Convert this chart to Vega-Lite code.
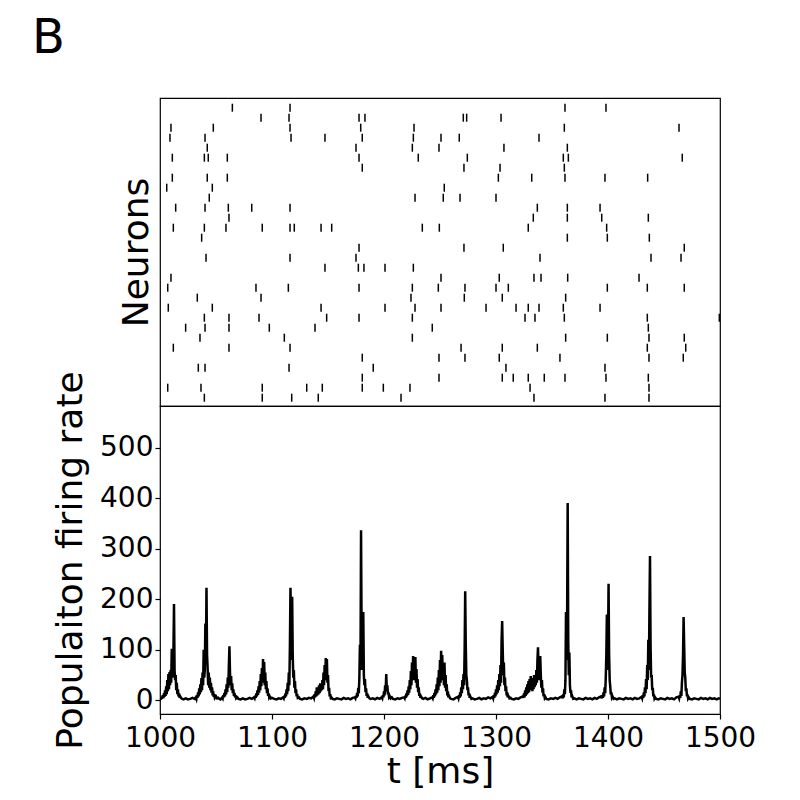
{
"$schema": "https://vega.github.io/schema/vega-lite/v6.json",
"padding": {"left": 31, "top": 15, "right": 5, "bottom": 5},
"bounds": "flush",
"title": {"text": "B", "anchor": "start", "fontSize": 48, "font": "DejaVu Sans", "fontWeight": "normal", "color": "black", "dx": -20, "offset": 34},
"config": {"font": "DejaVu Sans", "view": {"stroke": "black", "strokeWidth": 1.2},
 "axis": {"grid": false, "domain": false, "labelFont": "DejaVu Sans", "titleFont": "DejaVu Sans", "labelFontSize": 28, "titleFontSize": 36, "titleFontWeight": "normal", "labelColor": "black", "titleColor": "black", "tickColor": "black", "tickSize": 5, "tickWidth": 1.2, "labelFlush": false, "labelOverlap": false}},
"spacing": 0,
"datasets": {
"spikes": [
{"n":0,"t":1064.6},{"n":0,"t":1116.1},{"n":0,"t":1361.6},{"n":0,"t":1398.2},
{"n":1,"t":1090.2},{"n":1,"t":1115.2},{"n":1,"t":1177.7},{"n":1,"t":1183.0},{"n":1,"t":1270.8},{"n":1,"t":1273.8},{"n":1,"t":1304.5},
{"n":2,"t":1009.8},{"n":2,"t":1047.6},{"n":2,"t":1116.1},{"n":2,"t":1179.2},{"n":2,"t":1226.8},{"n":2,"t":1361.0},{"n":2,"t":1463.4},
{"n":3,"t":1008.9},{"n":3,"t":1040.2},{"n":3,"t":1117.0},{"n":3,"t":1147.3},{"n":3,"t":1180.6},{"n":3,"t":1226.2},{"n":3,"t":1250.9},{"n":3,"t":1267.2},{"n":3,"t":1338.4},
{"n":4,"t":1042.2},{"n":4,"t":1175.0},{"n":4,"t":1225.3},{"n":4,"t":1249.1},{"n":4,"t":1307.1},{"n":4,"t":1363.7},
{"n":5,"t":1011.0},{"n":5,"t":1039.6},{"n":5,"t":1043.1},{"n":5,"t":1060.1},{"n":5,"t":1177.7},{"n":5,"t":1230.6},{"n":5,"t":1274.4},{"n":5,"t":1360.1},{"n":5,"t":1364.6},{"n":5,"t":1466.3},
{"n":6,"t":1180.6},{"n":6,"t":1271.4},{"n":6,"t":1303.6},{"n":6,"t":1361.0},
{"n":7,"t":1011.0},{"n":7,"t":1042.2},{"n":7,"t":1060.1},{"n":7,"t":1302.1},{"n":7,"t":1331.9},{"n":7,"t":1361.6},{"n":7,"t":1397.3},{"n":7,"t":1435.4},
{"n":8,"t":1006.0},{"n":8,"t":1046.7},{"n":8,"t":1253.8},
{"n":9,"t":1044.0},{"n":9,"t":1227.7},{"n":9,"t":1252.9},{"n":9,"t":1267.9},{"n":9,"t":1300.0},
{"n":10,"t":1014.0},{"n":10,"t":1040.2},{"n":10,"t":1061.0},{"n":10,"t":1081.9},{"n":10,"t":1116.1},{"n":10,"t":1336.9},{"n":10,"t":1363.7},{"n":10,"t":1392.9},
{"n":11,"t":1061.6},{"n":11,"t":1333.3},{"n":11,"t":1363.7},{"n":11,"t":1394.4},{"n":11,"t":1436.0},
{"n":12,"t":1011.9},{"n":12,"t":1039.6},{"n":12,"t":1058.9},{"n":12,"t":1091.3},{"n":12,"t":1116.1},{"n":12,"t":1119.9},{"n":12,"t":1143.8},{"n":12,"t":1153.3},{"n":12,"t":1234.2},{"n":12,"t":1249.4},{"n":12,"t":1328.8},{"n":12,"t":1398.8},
{"n":13,"t":1037.2},{"n":13,"t":1363.7},{"n":13,"t":1399.4},{"n":13,"t":1436.9},
{"n":14,"t":1177.7},{"n":14,"t":1271.4},{"n":14,"t":1306.5},{"n":14,"t":1468.1},
{"n":15,"t":1041.1},{"n":15,"t":1116.1},{"n":15,"t":1175.0},{"n":15,"t":1339.3},{"n":15,"t":1438.4},{"n":15,"t":1465.2},
{"n":16,"t":1147.3},{"n":16,"t":1177.1},{"n":16,"t":1182.1},{"n":16,"t":1200.9},{"n":16,"t":1226.2},
{"n":17,"t":1009.8},{"n":17,"t":1250.9},{"n":17,"t":1302.9},{"n":17,"t":1333.9},{"n":17,"t":1340.2},{"n":17,"t":1364.0},{"n":17,"t":1427.7},
{"n":18,"t":1006.9},{"n":18,"t":1085.7},{"n":18,"t":1114.6},{"n":18,"t":1177.7},{"n":18,"t":1225.3},{"n":18,"t":1248.5},{"n":18,"t":1272.3},{"n":18,"t":1300.0},{"n":18,"t":1311.0},{"n":18,"t":1399.4},{"n":18,"t":1435.1},{"n":18,"t":1468.1},
{"n":19,"t":1033.3},{"n":19,"t":1090.2},{"n":19,"t":1224.1},{"n":19,"t":1271.7},{"n":19,"t":1305.6},{"n":19,"t":1362.2},
{"n":20,"t":1007.4},{"n":20,"t":1046.7},{"n":20,"t":1143.8},{"n":20,"t":1200.9},{"n":20,"t":1227.7},{"n":20,"t":1250.9},{"n":20,"t":1291.1},{"n":20,"t":1317.9},{"n":20,"t":1328.8},{"n":20,"t":1338.4},{"n":20,"t":1360.1},{"n":20,"t":1392.9},
{"n":21,"t":1039.6},{"n":21,"t":1061.6},{"n":21,"t":1088.4},{"n":21,"t":1148.8},{"n":21,"t":1177.7},{"n":21,"t":1225.3},{"n":21,"t":1325.9},{"n":21,"t":1334.8},{"n":21,"t":1361.0},{"n":21,"t":1435.1},{"n":21,"t":1499.4},
{"n":22,"t":1022.9},{"n":22,"t":1040.2},{"n":22,"t":1061.6},{"n":22,"t":1097.6},{"n":22,"t":1138.4},{"n":22,"t":1243.1},{"n":22,"t":1436.0},
{"n":23,"t":1035.7},{"n":23,"t":1111.0},{"n":23,"t":1225.3},{"n":23,"t":1362.2},{"n":23,"t":1399.4},{"n":23,"t":1436.6},{"n":23,"t":1468.1},
{"n":24,"t":1011.9},{"n":24,"t":1061.6},{"n":24,"t":1116.1},{"n":24,"t":1268.8},{"n":24,"t":1305.6},{"n":24,"t":1336.9},{"n":24,"t":1435.1},{"n":24,"t":1469.4},
{"n":25,"t":1180.6},{"n":25,"t":1249.1},{"n":25,"t":1272.3},{"n":25,"t":1302.9},{"n":25,"t":1357.1},{"n":25,"t":1436.6},{"n":25,"t":1467.2},
{"n":26,"t":1034.2},{"n":26,"t":1040.2},{"n":26,"t":1115.2},{"n":26,"t":1190.4},{"n":26,"t":1308.9},{"n":26,"t":1397.3},
{"n":27,"t":1180.6},{"n":27,"t":1249.1},{"n":27,"t":1305.6},{"n":27,"t":1315.4},{"n":27,"t":1328.8},{"n":27,"t":1343.1},{"n":27,"t":1361.6},{"n":27,"t":1398.2},{"n":27,"t":1436.0},
{"n":28,"t":1006.9},{"n":28,"t":1036.6},{"n":28,"t":1091.3},{"n":28,"t":1131.0},{"n":28,"t":1144.9},{"n":28,"t":1180.6},{"n":28,"t":1199.4},{"n":28,"t":1223.2},{"n":28,"t":1330.4},{"n":28,"t":1436.6},
{"n":29,"t":1039.6},{"n":29,"t":1091.3},{"n":29,"t":1117.6},{"n":29,"t":1141.3},{"n":29,"t":1215.2},{"n":29,"t":1333.9},{"n":29,"t":1397.3},{"n":29,"t":1436.6}
],
"rate": [
{"t":1000,"r":2},{"t":1001,"r":3},{"t":1002,"r":6},{"t":1002.5,"r":10},{"t":1003,"r":4},{"t":1003.5,"r":14},{"t":1004,"r":7},{"t":1004.5,"r":20},{"t":1005,"r":9},{"t":1005.5,"r":28},{"t":1006,"r":12},{"t":1006.5,"r":40},{"t":1007,"r":18},{"t":1007.5,"r":52},{"t":1008,"r":22},{"t":1008.5,"r":56},{"t":1009,"r":30},{"t":1009.5,"r":60},{"t":1010,"r":35},{"t":1010.5,"r":102},{"t":1011,"r":45},{"t":1011.5,"r":60},{"t":1012,"r":95},{"t":1012.5,"r":191},{"t":1013,"r":60},{"t":1013.5,"r":40},{"t":1014,"r":50},{"t":1014.5,"r":20},{"t":1015,"r":35},{"t":1015.5,"r":12},{"t":1016,"r":22},{"t":1016.5,"r":8},{"t":1017,"r":14},{"t":1017.5,"r":5},{"t":1018,"r":8},{"t":1019,"r":4},{"t":1020,"r":3},{"t":1021,"r":2},{"t":1023,"r":4},{"t":1025,"r":2},{"t":1027,"r":3},{"t":1029,"r":5},{"t":1031,"r":3},
{"t":1032,"r":6},{"t":1032.5,"r":3},{"t":1033,"r":10},{"t":1033.5,"r":5},{"t":1034,"r":16},{"t":1034.5,"r":8},{"t":1035,"r":24},{"t":1035.5,"r":12},{"t":1036,"r":32},{"t":1036.5,"r":16},{"t":1037,"r":44},{"t":1037.5,"r":20},{"t":1038,"r":55},{"t":1038.5,"r":30},{"t":1039,"r":100},{"t":1039.5,"r":45},{"t":1040,"r":60},{"t":1040.5,"r":152},{"t":1041,"r":70},{"t":1041.5,"r":223},{"t":1042,"r":90},{"t":1042.5,"r":65},{"t":1043,"r":30},{"t":1043.5,"r":55},{"t":1044,"r":25},{"t":1044.5,"r":45},{"t":1045,"r":20},{"t":1045.5,"r":35},{"t":1046,"r":15},{"t":1046.5,"r":26},{"t":1047,"r":10},{"t":1047.5,"r":18},{"t":1048,"r":7},{"t":1048.5,"r":12},{"t":1049,"r":5},{"t":1050,"r":8},{"t":1051,"r":4},{"t":1052,"r":5},{"t":1053,"r":3},{"t":1054,"r":2},
{"t":1055.5,"r":6},{"t":1056,"r":4},{"t":1056.5,"r":10},{"t":1057,"r":6},{"t":1057.5,"r":15},{"t":1058,"r":8},{"t":1058.5,"r":22},{"t":1059,"r":12},{"t":1059.5,"r":32},{"t":1060,"r":16},{"t":1060.5,"r":45},{"t":1061,"r":25},{"t":1061.5,"r":70},{"t":1062,"r":107},{"t":1062.5,"r":55},{"t":1063,"r":30},{"t":1063.5,"r":48},{"t":1064,"r":20},{"t":1064.5,"r":34},{"t":1065,"r":14},{"t":1065.5,"r":22},{"t":1066,"r":9},{"t":1066.5,"r":15},{"t":1067,"r":6},{"t":1067.5,"r":10},{"t":1068,"r":4},{"t":1069,"r":6},{"t":1070,"r":3},{"t":1072,"r":2},{"t":1074,"r":4},{"t":1076,"r":2},{"t":1078,"r":3},{"t":1080,"r":5},{"t":1082,"r":3},{"t":1084,"r":6},
{"t":1084.5,"r":4},{"t":1085,"r":9},{"t":1085.5,"r":5},{"t":1086,"r":14},{"t":1086.5,"r":8},{"t":1087,"r":20},{"t":1087.5,"r":11},{"t":1088,"r":28},{"t":1088.5,"r":15},{"t":1089,"r":38},{"t":1089.5,"r":20},{"t":1090,"r":52},{"t":1090.5,"r":28},{"t":1091,"r":64},{"t":1091.5,"r":35},{"t":1092,"r":82},{"t":1092.5,"r":40},{"t":1093,"r":76},{"t":1093.5,"r":30},{"t":1094,"r":55},{"t":1094.5,"r":22},{"t":1095,"r":38},{"t":1095.5,"r":14},{"t":1096,"r":24},{"t":1096.5,"r":9},{"t":1097,"r":14},{"t":1097.5,"r":6},{"t":1098,"r":8},{"t":1099,"r":4},{"t":1100,"r":5},{"t":1102,"r":3},{"t":1104,"r":2},{"t":1106,"r":4},{"t":1108,"r":3},{"t":1110,"r":6},
{"t":1110.5,"r":4},{"t":1111,"r":9},{"t":1111.5,"r":5},{"t":1112,"r":14},{"t":1112.5,"r":8},{"t":1113,"r":22},{"t":1113.5,"r":12},{"t":1114,"r":35},{"t":1114.5,"r":18},{"t":1115,"r":55},{"t":1115.5,"r":30},{"t":1116,"r":110},{"t":1116.5,"r":223},{"t":1117,"r":120},{"t":1117.5,"r":80},{"t":1118,"r":205},{"t":1118.5,"r":90},{"t":1119,"r":45},{"t":1119.5,"r":60},{"t":1120,"r":25},{"t":1120.5,"r":38},{"t":1121,"r":14},{"t":1121.5,"r":22},{"t":1122,"r":8},{"t":1122.5,"r":12},{"t":1123,"r":5},{"t":1124,"r":6},{"t":1125,"r":3},{"t":1127,"r":2},{"t":1129,"r":4},{"t":1131,"r":3},{"t":1133,"r":5},{"t":1135,"r":4},{"t":1137,"r":8},
{"t":1137.5,"r":5},{"t":1138,"r":12},{"t":1138.5,"r":6},{"t":1139,"r":18},{"t":1139.5,"r":8},{"t":1140,"r":26},{"t":1140.5,"r":10},{"t":1141,"r":22},{"t":1141.5,"r":12},{"t":1142,"r":30},{"t":1142.5,"r":14},{"t":1143,"r":34},{"t":1143.5,"r":18},{"t":1144,"r":28},{"t":1144.5,"r":20},{"t":1145,"r":40},{"t":1145.5,"r":22},{"t":1146,"r":55},{"t":1146.5,"r":30},{"t":1147,"r":70},{"t":1147.5,"r":40},{"t":1148,"r":84},{"t":1148.5,"r":45},{"t":1149,"r":82},{"t":1149.5,"r":35},{"t":1150,"r":50},{"t":1150.5,"r":18},{"t":1151,"r":25},{"t":1151.5,"r":8},{"t":1152,"r":12},{"t":1152.5,"r":5},{"t":1153,"r":6},{"t":1154,"r":3},{"t":1156,"r":2},{"t":1158,"r":4},{"t":1160,"r":3},{"t":1162,"r":2},{"t":1164,"r":5},{"t":1166,"r":3},{"t":1168,"r":4},{"t":1170,"r":2},{"t":1172,"r":5},{"t":1174,"r":6},
{"t":1174.5,"r":4},{"t":1175,"r":9},{"t":1175.5,"r":5},{"t":1176,"r":15},{"t":1176.5,"r":8},{"t":1177,"r":25},{"t":1177.5,"r":14},{"t":1178,"r":45},{"t":1178.5,"r":110},{"t":1179,"r":60},{"t":1179.5,"r":337},{"t":1180,"r":130},{"t":1180.5,"r":60},{"t":1181,"r":100},{"t":1181.5,"r":175},{"t":1182,"r":50},{"t":1182.5,"r":30},{"t":1183,"r":42},{"t":1183.5,"r":16},{"t":1184,"r":24},{"t":1184.5,"r":9},{"t":1185,"r":14},{"t":1185.5,"r":5},{"t":1186,"r":8},{"t":1187,"r":4},{"t":1188,"r":3},{"t":1190,"r":4},{"t":1192,"r":2},{"t":1194,"r":5},{"t":1196,"r":3},{"t":1198,"r":6},
{"t":1198.5,"r":4},{"t":1199,"r":10},{"t":1199.5,"r":6},{"t":1200,"r":18},{"t":1200.5,"r":10},{"t":1201,"r":30},{"t":1201.5,"r":18},{"t":1202,"r":52},{"t":1202.5,"r":22},{"t":1203,"r":30},{"t":1203.5,"r":12},{"t":1204,"r":16},{"t":1204.5,"r":7},{"t":1205,"r":9},{"t":1206,"r":4},{"t":1207,"r":6},{"t":1208,"r":3},{"t":1210,"r":2},{"t":1212,"r":4},{"t":1214,"r":3},{"t":1216,"r":5},{"t":1218,"r":6},
{"t":1218.5,"r":4},{"t":1219,"r":9},{"t":1219.5,"r":5},{"t":1220,"r":14},{"t":1220.5,"r":8},{"t":1221,"r":20},{"t":1221.5,"r":11},{"t":1222,"r":28},{"t":1222.5,"r":15},{"t":1223,"r":40},{"t":1223.5,"r":22},{"t":1224,"r":58},{"t":1224.5,"r":30},{"t":1225,"r":75},{"t":1225.5,"r":40},{"t":1226,"r":88},{"t":1226.5,"r":45},{"t":1227,"r":84},{"t":1227.5,"r":40},{"t":1228,"r":86},{"t":1228.5,"r":35},{"t":1229,"r":62},{"t":1229.5,"r":25},{"t":1230,"r":42},{"t":1230.5,"r":16},{"t":1231,"r":26},{"t":1231.5,"r":9},{"t":1232,"r":14},{"t":1232.5,"r":5},{"t":1233,"r":8},{"t":1234,"r":4},{"t":1235,"r":3},{"t":1237,"r":5},{"t":1239,"r":2},{"t":1241,"r":4},{"t":1243,"r":6},
{"t":1243.5,"r":4},{"t":1244,"r":10},{"t":1244.5,"r":5},{"t":1245,"r":15},{"t":1245.5,"r":8},{"t":1246,"r":22},{"t":1246.5,"r":12},{"t":1247,"r":32},{"t":1247.5,"r":15},{"t":1248,"r":45},{"t":1248.5,"r":20},{"t":1249,"r":60},{"t":1249.5,"r":28},{"t":1250,"r":80},{"t":1250.5,"r":35},{"t":1251,"r":98},{"t":1251.5,"r":45},{"t":1252,"r":90},{"t":1252.5,"r":40},{"t":1253,"r":70},{"t":1253.5,"r":30},{"t":1254,"r":75},{"t":1254.5,"r":25},{"t":1255,"r":50},{"t":1255.5,"r":18},{"t":1256,"r":32},{"t":1256.5,"r":10},{"t":1257,"r":18},{"t":1257.5,"r":6},{"t":1258,"r":9},{"t":1259,"r":4},{"t":1260,"r":3},{"t":1262,"r":2},{"t":1264,"r":5},{"t":1266,"r":7},
{"t":1266.5,"r":4},{"t":1267,"r":10},{"t":1267.5,"r":5},{"t":1268,"r":16},{"t":1268.5,"r":8},{"t":1269,"r":26},{"t":1269.5,"r":14},{"t":1270,"r":40},{"t":1270.5,"r":22},{"t":1271,"r":52},{"t":1271.5,"r":30},{"t":1272,"r":100},{"t":1272.5,"r":216},{"t":1273,"r":110},{"t":1273.5,"r":50},{"t":1274,"r":40},{"t":1274.5,"r":20},{"t":1275,"r":26},{"t":1275.5,"r":10},{"t":1276,"r":14},{"t":1276.5,"r":5},{"t":1277,"r":8},{"t":1278,"r":3},{"t":1279,"r":4},{"t":1281,"r":2},{"t":1283,"r":3},{"t":1285,"r":5},{"t":1287,"r":2},{"t":1289,"r":4},{"t":1291,"r":3},{"t":1293,"r":6},{"t":1295,"r":4},{"t":1297,"r":7},
{"t":1297.5,"r":4},{"t":1298,"r":10},{"t":1298.5,"r":5},{"t":1299,"r":15},{"t":1299.5,"r":8},{"t":1300,"r":22},{"t":1300.5,"r":12},{"t":1301,"r":30},{"t":1301.5,"r":15},{"t":1302,"r":40},{"t":1302.5,"r":20},{"t":1303,"r":52},{"t":1303.5,"r":28},{"t":1304,"r":70},{"t":1304.5,"r":35},{"t":1305,"r":120},{"t":1305.5,"r":157},{"t":1306,"r":100},{"t":1306.5,"r":50},{"t":1307,"r":75},{"t":1307.5,"r":30},{"t":1308,"r":45},{"t":1308.5,"r":18},{"t":1309,"r":28},{"t":1309.5,"r":10},{"t":1310,"r":16},{"t":1310.5,"r":6},{"t":1311,"r":9},{"t":1312,"r":4},{"t":1313,"r":5},{"t":1314,"r":3},{"t":1316,"r":2},{"t":1318,"r":4},{"t":1320,"r":3},{"t":1322,"r":6},{"t":1324,"r":8},
{"t":1324.5,"r":5},{"t":1325,"r":14},{"t":1325.5,"r":6},{"t":1326,"r":20},{"t":1326.5,"r":9},{"t":1327,"r":26},{"t":1327.5,"r":12},{"t":1328,"r":32},{"t":1328.5,"r":14},{"t":1329,"r":38},{"t":1329.5,"r":16},{"t":1330,"r":42},{"t":1330.5,"r":20},{"t":1331,"r":48},{"t":1331.5,"r":22},{"t":1332,"r":40},{"t":1332.5,"r":18},{"t":1333,"r":44},{"t":1333.5,"r":22},{"t":1334,"r":50},{"t":1334.5,"r":26},{"t":1335,"r":45},{"t":1335.5,"r":30},{"t":1336,"r":60},{"t":1336.5,"r":35},{"t":1337,"r":80},{"t":1337.5,"r":105},{"t":1338,"r":60},{"t":1338.5,"r":40},{"t":1339,"r":70},{"t":1339.5,"r":88},{"t":1340,"r":50},{"t":1340.5,"r":25},{"t":1341,"r":40},{"t":1341.5,"r":15},{"t":1342,"r":24},{"t":1342.5,"r":8},{"t":1343,"r":12},{"t":1343.5,"r":5},{"t":1344,"r":7},{"t":1345,"r":3},{"t":1347,"r":2},{"t":1349,"r":4},{"t":1351,"r":3},{"t":1353,"r":5},{"t":1355,"r":3},{"t":1357,"r":6},{"t":1359,"r":8},
{"t":1359.5,"r":4},{"t":1360,"r":12},{"t":1360.5,"r":6},{"t":1361,"r":22},{"t":1361.5,"r":12},{"t":1362,"r":40},{"t":1362.5,"r":175},{"t":1363,"r":80},{"t":1363.5,"r":160},{"t":1364,"r":391},{"t":1364.5,"r":120},{"t":1365,"r":50},{"t":1365.5,"r":95},{"t":1366,"r":30},{"t":1366.5,"r":15},{"t":1367,"r":20},{"t":1367.5,"r":6},{"t":1368,"r":9},{"t":1369,"r":3},{"t":1370,"r":4},{"t":1372,"r":2},{"t":1374,"r":4},{"t":1376,"r":3},{"t":1378,"r":2},{"t":1380,"r":5},{"t":1382,"r":3},{"t":1384,"r":4},{"t":1386,"r":2},{"t":1388,"r":5},{"t":1390,"r":3},{"t":1392,"r":6},{"t":1394,"r":8},
{"t":1394.5,"r":4},{"t":1395,"r":10},{"t":1395.5,"r":5},{"t":1396,"r":16},{"t":1396.5,"r":8},{"t":1397,"r":26},{"t":1397.5,"r":14},{"t":1398,"r":45},{"t":1398.5,"r":90},{"t":1399,"r":170},{"t":1399.5,"r":60},{"t":1400,"r":100},{"t":1400.5,"r":231},{"t":1401,"r":90},{"t":1401.5,"r":40},{"t":1402,"r":28},{"t":1402.5,"r":12},{"t":1403,"r":16},{"t":1403.5,"r":6},{"t":1404,"r":8},{"t":1405,"r":3},{"t":1406,"r":4},{"t":1408,"r":2},{"t":1410,"r":4},{"t":1412,"r":3},{"t":1414,"r":2},{"t":1416,"r":5},{"t":1418,"r":3},{"t":1420,"r":4},{"t":1422,"r":2},{"t":1424,"r":5},{"t":1426,"r":3},{"t":1428,"r":4},{"t":1430,"r":7},
{"t":1430.5,"r":4},{"t":1431,"r":10},{"t":1431.5,"r":5},{"t":1432,"r":16},{"t":1432.5,"r":8},{"t":1433,"r":26},{"t":1433.5,"r":14},{"t":1434,"r":42},{"t":1434.5,"r":22},{"t":1435,"r":70},{"t":1435.5,"r":40},{"t":1436,"r":120},{"t":1436.5,"r":60},{"t":1437,"r":180},{"t":1437.5,"r":286},{"t":1438,"r":110},{"t":1438.5,"r":45},{"t":1439,"r":50},{"t":1439.5,"r":20},{"t":1440,"r":25},{"t":1440.5,"r":8},{"t":1441,"r":12},{"t":1441.5,"r":4},{"t":1442,"r":6},{"t":1443,"r":3},{"t":1445,"r":2},{"t":1447,"r":4},{"t":1449,"r":3},{"t":1451,"r":2},{"t":1453,"r":5},{"t":1455,"r":3},{"t":1457,"r":4},{"t":1459,"r":2},{"t":1461,"r":6},{"t":1463,"r":7},
{"t":1463.5,"r":4},{"t":1464,"r":10},{"t":1464.5,"r":5},{"t":1465,"r":18},{"t":1465.5,"r":9},{"t":1466,"r":35},{"t":1466.5,"r":50},{"t":1467,"r":90},{"t":1467.5,"r":165},{"t":1468,"r":110},{"t":1468.5,"r":55},{"t":1469,"r":45},{"t":1469.5,"r":18},{"t":1470,"r":24},{"t":1470.5,"r":8},{"t":1471,"r":12},{"t":1471.5,"r":4},{"t":1472,"r":6},{"t":1473,"r":3},{"t":1475,"r":2},{"t":1477,"r":4},{"t":1479,"r":3},{"t":1481,"r":2},{"t":1483,"r":5},{"t":1485,"r":3},{"t":1487,"r":4},{"t":1489,"r":2},{"t":1491,"r":5},{"t":1493,"r":3},{"t":1495,"r":4},{"t":1497,"r":2},{"t":1499,"r":4},{"t":1500,"r":3}
]
},
"vconcat": [
{
 "width": 560, "height": 308,
 "data": {"name": "spikes"},
 "mark": {"type": "tick", "orient": "vertical", "size": 8, "thickness": 1.5, "color": "black", "opacity": 1, "clip": true},
 "encoding": {
  "x": {"field": "t", "type": "quantitative", "scale": {"domain": [1000, 1500], "nice": false, "zero": false}, "axis": null},
  "y": {"field": "n", "type": "quantitative", "scale": {"domain": [-0.97, 29.83], "reverse": true, "nice": false, "zero": false}, "axis": {"title": "Neurons", "labels": false, "ticks": false, "titlePadding": 5}}
 }
},
{
 "width": 560, "height": 308,
 "data": {"name": "rate"},
 "mark": {"type": "line", "color": "black", "strokeWidth": 2.5, "clip": true},
 "encoding": {
  "x": {"field": "t", "type": "quantitative", "scale": {"domain": [1000, 1500], "nice": false, "zero": false}, "axis": {"title": "t [ms]", "values": [1000, 1100, 1200, 1300, 1400, 1500], "format": "d", "labelPadding": 5, "titlePadding": 2}},
  "y": {"field": "r", "type": "quantitative", "scale": {"domain": [-27, 583], "nice": false, "zero": false}, "axis": {"title": "Populaiton firing rate", "values": [0, 100, 200, 300, 400, 500], "format": "d", "titlePadding": 10}}
 }
}
]
}
